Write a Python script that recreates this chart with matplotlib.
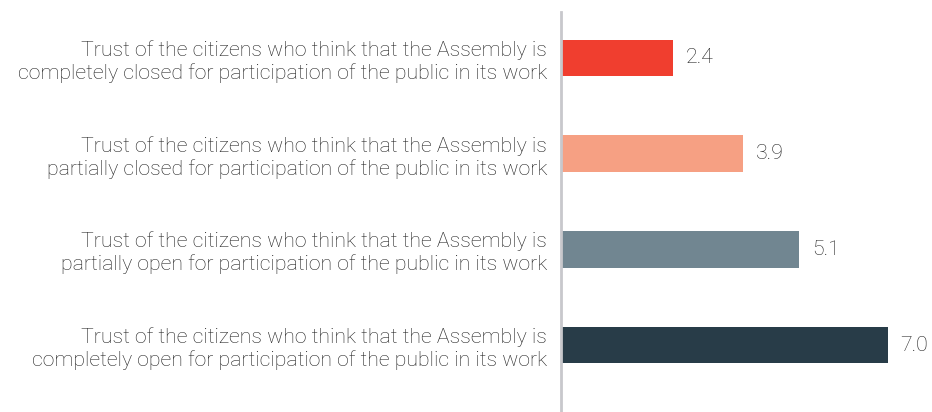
import matplotlib.pyplot as plt

labels = [
    "Trust of the citizens who think that the Assembly is\ncompletely closed for participation of the public in its work",
    "Trust of the citizens who think that the Assembly is\npartially closed for participation of the public in its work",
    "Trust of the citizens who think that the Assembly is\npartially open for participation of the public in its work",
    "Trust of the citizens who think that the Assembly is\ncompletely open for participation of the public in its work",
]
values = [2.4, 3.9, 5.1, 7.0]
colors = ["#F03E2F", "#F6A083", "#718691", "#283C48"]

plt.rcParams['font.family'] = ['Roboto', 'DejaVu Sans']

W, H = 932, 412
fig = plt.figure(figsize=(W / 100, H / 100), dpi=100)
# axes from x=561 to right edge, y=12 to bottom
ax = fig.add_axes([561 / W, 0, 1 - 561 / W, (H - 12) / H])

pos = list(range(len(values)))
ax.barh(pos, values, height=0.38, color=colors)

for p, v in zip(pos, values):
    ax.text(v + 0.27, p, f"{v:.1f}", va="center", ha="left",
            fontsize=15.3, fontweight="light", color="#222222")

ax.set_xlim(0, 371 / 46.7)
ax.set_ylim(3.70, -0.48)

ax.set_yticks(pos)
ax.set_yticklabels(labels, fontsize=15.3, fontweight="light", color="#222222",
                   ha="right", linespacing=1.2)
ax.tick_params(axis="y", length=0, pad=10)
ax.set_xticks([])

for s in ["top", "right", "bottom"]:
    ax.spines[s].set_visible(False)
ax.spines["left"].set_color("#C8C8CC")
ax.spines["left"].set_linewidth(2)

fig.savefig("out.png", dpi=100)
